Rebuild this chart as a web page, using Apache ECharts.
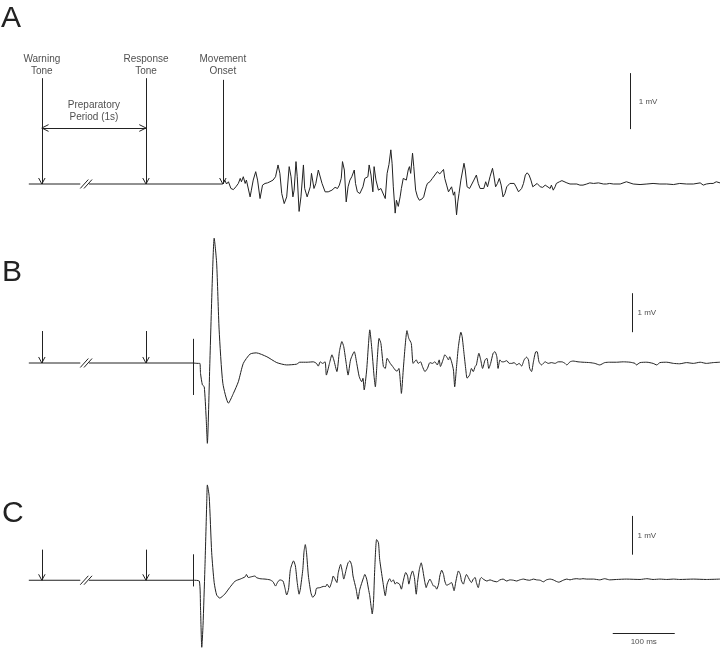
<!DOCTYPE html>
<html>
<head>
<meta charset="utf-8">
<title>EMG traces</title>
<script src="https://cdn.jsdelivr.net/npm/echarts/dist/echarts.min.js"></script>
<style>
  html, body { margin: 0; padding: 0; background: #fff; }
  #emg { width: 720px; height: 650px; }
</style>
</head>
<body>
<div id="emg"></div>
<script>
// ================* EMG TRACES (ms, mV) *

// time of events, ms (response tone = 0, axis broken between warning and response)
var toneTimes = [-168, 0];
var onsetTimes = [124, 76, 77];

// panel A
var traceA = [
    [124,0],[125,0.01],[127,0.07],[130,0.00],[133,0.04],[137,-0.08],[141,-0.10],[145,-0.05],[149,0.01],[152,0.10],
    [154,0.04],[157,0.13],[160,0.01],[162,0.07],[168,-0.23],[170,-0.11],[173,0.07],[177,0.22],[180,0.07],[184,-0.26],
    [188,-0.02],[192,0.01],[196,0.02],[200,0.04],[205,0.07],[209,0.13],[213,0.34],[216,0.19],[219,-0.17],[223,-0.35],
    [227,-0.23],[231,0.31],[234,0.13],[237,-0.23],[239,-0.11],[242,0.40],[244,0.13],[247,-0.49],[250,-0.23],[254,0.34],
    [256,-0.08],[260,-0.23],[265,-0.05],[267,0.19],[271,-0.08],[274,0.01],[278,0.25],[281,0.22],[284,0.01],[289,-0.14],
    [294,-0.14],[300,-0.11],[305,-0.06],[309,-0.08],[312,-0.02],[315,0.10],[317,0.40],[320,0.25],[323,-0.32],[326,-0.05],
    [329,0.07],[332,0.13],[336,0.25],[338,0.01],[341,-0.14],[345,-0.17],[350,-0.05],[353,0.10],[358,0.13],[360,0.34],
    [363,0.16],[366,-0.14],[368,0.31],[371,0.07],[375,-0.11],[379,-0.08],[382,-0.05],[386,-0.26],[389,0.19],[392,0.35],
    [395,0.61],[397,0.37],[399,-0.05],[402,-0.52],[404,-0.29],[407,-0.40],[410,-0.23],[412,-0.08],[415,0.10],[418,0.13],
    [420,0.07],[423,0.25],[425,0.31],[427,0.19],[430,0.55],[432,0.31],[435,-0.11],[438,-0.23],[441,-0.29],[445,-0.27],
    [448,-0.23],[452,-0.05],[454,0.01],[458,0.04],[462,0.10],[466,0.16],[470,0.22],[474,0.18],[477,0.20],[480,0.26],
    [482,0.10],[485,-0.02],[488,-0.14],[490,-0.11],[493,-0.05],[496,-0.20],[498,-0.14],[501,-0.55],[503,-0.32],[505,-0.17],
    [508,0.07],[511,0.25],[513,0.37],[515,0.25],[518,-0.05],[522,-0.08],[525,-0.05],[529,0.07],[533,0.16],[536,0.01],
    [539,-0.08],[541,-0.06],[545,-0.08],[548,0.04],[551,-0.05],[555,0.13],[559,0.28],[561,0.16],[564,-0.05],[567,0.01],
    [570,0.10],[573,-0.02],[576,-0.23],[579,-0.17],[582,-0.05],[584,-0.05],[587,0.01],[590,0.04],[594,0.01],[597,-0.05],
    [601,-0.14],[603,-0.16],[606,-0.08],[609,0.01],[612,0.16],[615,0.20],[618,0.16],[621,0.07],[624,-0.05],[627,-0.04],
    [631,0.01],[636,-0.05],[640,-0.06],[644,-0.02],[647,-0.05],[652,-0.08],[654,-0.02],[657,-0.11],[660,-0.05],[662,0.01],
    [667,0.04],[671,0.06],[673,0.04],[679,0.02],[684,0],[689,0],[695,0],[700,-0.02],[705,-0.02],[711,0],
    [716,0.02],[722,0.01],[730,0.02],[738,0],[743,0],[748,0.01],[754,0],[765,0],[775,0.04],[778,0.01],
    [786,0],[797,-0.01],[808,0],[818,0.01],[829,0],[840,0],[851,-0.01],[861,0.01],[872,0],[883,0],
    [894,0.02],[899,-0.02],[904,0],[910,0.01],[915,0.01],[920,0.04],[926,0.02]
];

// panel B
var traceB = [
    [76,0],[84,-0.01],[87,-0.01],[88,-0.27],[91,-0.56],[94,-0.61],[97,-1.38],[99,-2.06],[103,-0.01],[107,2.13],
    [110,3.20],[114,2.56],[118,0.85],[124,-0.52],[133,-1.03],[141,-0.78],[149,-0.48],[157,-0.01],[168,0.23],[178,0.26],
    [195,0.16],[211,0.01],[227,-0.05],[243,-0.03],[248,0.02],[260,0.02],[270,0.03],[275,-0.01],[278,-0.08],[281,0.03],
    [285,-0.01],[289,0.03],[291,-0.31],[296,-0.01],[300,0.21],[303,0.08],[308,-0.22],[312,0.29],[316,0.55],[319,0.42],
    [323,-0.01],[326,-0.31],[330,0.08],[336,0.29],[340,-0.01],[344,-0.35],[348,-0.48],[350,-0.39],[352,-0.69],[356,-0.18],
    [359,0.50],[361,0.85],[364,0.42],[368,-0.35],[370,-0.61],[373,0.08],[376,0.63],[379,0.50],[383,-0.09],[386,-0.14],
    [389,0.12],[394,-0.01],[398,-0.09],[402,-0.18],[405,-0.21],[408,-0.14],[411,-0.61],[412,-0.78],[415,-0.18],[418,0.42],
    [421,0.83],[424,0.63],[428,0.50],[431,-0.01],[436,0.08],[439,-0.01],[443,0.03],[446,-0.09],[450,-0.22],[454,-0.14],
    [458,0.01],[462,-0.01],[466,0.03],[470,-0.05],[473,0.08],[475,-0.09],[480,0.12],[482,0.21],[485,0.16],[488,0.08],
    [490,0.16],[493,0.03],[496,-0.18],[498,-0.61],[501,-0.09],[504,0.42],[508,0.79],[510,0.68],[513,0.25],[516,-0.18],
    [518,-0.39],[522,-0.31],[525,-0.14],[528,-0.22],[531,-0.09],[533,-0.05],[537,0.25],[540,0.08],[543,-0.14],[547,0.08],
    [550,0.12],[553,-0.14],[556,-0.01],[560,0.25],[563,0.29],[566,0.16],[568,-0.14],[571,0.08],[574,0.03],[577,0.03],
    [582,0.06],[586,-0.01],[590,-0.01],[594,0.01],[598,-0.05],[602,-0.01],[606,-0.08],[610,0.08],[614,0.15],[617,0.08],
    [619,-0.14],[622,-0.22],[625,0.03],[629,0.29],[631,0.29],[634,0.03],[638,-0.05],[644,0.03],[649,-0.01],[654,0.01],
    [660,-0.01],[665,0.03],[671,0.03],[676,-0.01],[679,-0.05],[684,0.03],[689,0.05],[697,0.03],[705,0.02],[716,0.01],
    [724,-0.01],[732,-0.05],[740,0.01],[748,0.02],[759,0.02],[770,0.03],[781,0.02],[789,-0.01],[791,-0.05],[797,0.01],
    [808,0.02],[818,-0.01],[824,-0.05],[829,0.01],[840,0.02],[851,-0.01],[861,-0.02],[872,0.01],[883,-0.01],[894,0.02],
    [904,-0.01],[915,0.01],[926,0.02]
];

// panel C
var traceC = [
    [77,0],[86,-0.02],[88,-0.74],[90,-1.73],[92,-1.17],[95,0.28],[98,1.99],[99,2.46],[102,2.16],[106,0.71],
    [110,-0.06],[114,-0.38],[119,-0.46],[127,-0.36],[135,-0.19],[144,-0.02],[152,0.03],[160,0.09],[162,0.15],[165,0.07],
    [170,0.09],[176,0.11],[178,0.07],[184,0.04],[192,0.03],[200,0.01],[205,-0.04],[209,-0.15],[212,-0.06],[216,0.01],
    [221,-0.02],[224,-0.19],[227,-0.38],[230,-0.23],[233,0.28],[238,0.50],[241,0.37],[244,-0.06],[247,-0.36],[249,-0.23],
    [253,0.28],[255,0.75],[257,0.92],[259,0.71],[262,0.11],[266,-0.32],[269,-0.44],[273,-0.36],[275,-0.21],[281,-0.19],
    [286,-0.16],[290,-0.16],[292,-0.10],[296,-0.19],[300,-0.02],[302,0.11],[305,0.03],[308,-0.06],[310,0.18],[314,0.41],
    [317,0.20],[319,0.03],[323,0.28],[326,0.45],[329,0.50],[332,0.37],[334,0.11],[339,-0.23],[342,-0.49],[345,-0.23],
    [351,0.07],[353,0.15],[356,0.03],[359,-0.23],[361,-0.40],[363,-0.66],[365,-0.87],[367,-0.57],[369,0.28],[372,1.05],
    [375,0.97],[377,0.54],[382,-0.02],[386,-0.40],[389,-0.10],[393,0.04],[396,-0.04],[399,0.01],[402,-0.10],[404,-0.06],
    [409,-0.10],[412,-0.23],[415,-0.02],[419,0.20],[422,0.11],[424,-0.10],[427,0.11],[430,0.24],[433,0.07],[436,-0.36],
    [438,-0.06],[441,0.28],[444,0.45],[446,0.32],[449,0.03],[452,-0.19],[454,-0.10],[458,0.03],[461,-0.06],[464,-0.15],
    [466,-0.15],[469,-0.23],[472,-0.10],[474,0.11],[477,0.26],[480,0.15],[482,-0.02],[485,-0.13],[489,-0.10],[493,-0.06],
    [497,-0.27],[500,-0.02],[504,0.24],[507,0.15],[509,-0.02],[512,-0.10],[515,0.07],[517,0.15],[520,0.07],[523,-0.02],
    [525,-0.06],[528,0.03],[531,0.07],[533,-0.06],[536,-0.19],[539,0.03],[541,0.07],[544,0.03],[550,-0.02],[555,0.01],
    [560,-0.02],[566,-0.04],[571,0.01],[576,0.03],[582,-0.02],[587,0.01],[593,0],[598,-0.02],[603,0.01],[609,0.03],
    [614,0.01],[619,0],[625,0.03],[630,0.01],[636,0],[641,-0.04],[646,0.01],[652,0.03],[657,0.01],[662,-0.03],
    [666,-0.05],[673,0],[679,0.03],[684,0.01],[689,0.03],[695,0.04],[700,0.03],[705,0.04],[711,0.03],[722,0.03],
    [732,0.01],[740,0.04],[748,0.01],[759,0.02],[775,0.03],[797,0.02],[808,0.04],[818,0.02],[829,0.03],[840,0.02],
    [851,0.03],[861,0.02],[883,0.03],[904,0.02],[926,0.03]
];

// pre-onset baseline (before / after the axis break), ms
var baseStart = -189;
var breakFrom = -106;
var breakTo = -92;

// scale bars: [time, from mV, to mV]
var mvBars = [[781, 0.98, 1.98], [784, 0.79, 1.79], [784, 0.66, 1.66]];
var msBar = [753, 853, -1.36];

var font = 'Liberation Sans, Arial, Helvetica, sans-serif';
var ink = '#222';

function seg(a, b) {
    return [{ coord: a }, { coord: b }];
}

// down arrow ending on the baseline, open chevron head
function downArrow(t, top, armT, armV) {
    return [seg([t, top], [t, 0]), seg([t - armT, armV], [t, 0]), seg([t + armT, armV], [t, 0])];
}

function breakMarks(h) {
    return [seg([-106, -h], [-93, h]), seg([-100, -h], [-87, h])];
}

function textSeries(idx, items, size) {
    return {
        type: 'scatter',
        xAxisIndex: idx,
        yAxisIndex: idx,
        symbolSize: 1,
        silent: true,
        itemStyle: { color: 'rgba(0,0,0,0)' },
        label: {
            show: true,
            position: 'inside',
            formatter: '{b}',
            color: '#222',
            fontSize: size,
            lineHeight: size + 2,
            fontFamily: font
        },
        data: items
    };
}

function tracePanel(idx, onset, trace, annot, smooth) {
    return [{
        type: 'line',
        xAxisIndex: idx,
        yAxisIndex: idx,
        data: [[baseStart, 0], [breakFrom, 0]],
        showSymbol: false,
        lineStyle: { color: ink, width: 1 },
        markLine: {
            silent: true,
            symbol: ['none', 'none'],
            label: { show: false },
            lineStyle: { color: ink, width: 1, type: 'solid' },
            data: annot
        }
    }, {
        type: 'line',
        xAxisIndex: idx,
        yAxisIndex: idx,
        data: [[breakTo, 0], [onset, 0]],
        showSymbol: false,
        lineStyle: { color: ink, width: 1 }
    }, {
        type: 'line',
        xAxisIndex: idx,
        yAxisIndex: idx,
        data: trace,
        showSymbol: false,
        smooth: smooth,
        clip: false,
        lineStyle: { color: ink, width: 1 }
    }];
}

var emg = echarts.init(document.getElementById('emg'));

// panel A annotations
var annotA = []
    .concat(downArrow(toneTimes[0], 1.89, 5.2, 0.107))
    .concat(downArrow(toneTimes[1], 1.89, 5.2, 0.107))
    .concat(downArrow(onsetTimes[0], 1.86, 5.2, 0.107))
    .concat([
        seg([toneTimes[0], 1.0], [toneTimes[1], 1.0]),
        seg([toneTimes[0], 1.0], [toneTimes[0] + 10.8, 1.06]),
        seg([toneTimes[0], 1.0], [toneTimes[0] + 10.8, 0.94]),
        seg([toneTimes[1], 1.0], [toneTimes[1] - 10.8, 1.06]),
        seg([toneTimes[1], 1.0], [toneTimes[1] - 10.8, 0.94])
    ])
    .concat(breakMarks(0.08))
    .concat([seg([mvBars[0][0], mvBars[0][1]], [mvBars[0][0], mvBars[0][2]])]);

var annotB = []
    .concat(downArrow(toneTimes[0], 0.82, 5.2, 0.154))
    .concat(downArrow(toneTimes[1], 0.82, 5.2, 0.154))
    .concat([seg([onsetTimes[1], 0.62], [onsetTimes[1], -0.82])])
    .concat(breakMarks(0.115))
    .concat([seg([mvBars[1][0], mvBars[1][1]], [mvBars[1][0], mvBars[1][2]])]);

var annotC = []
    .concat(downArrow(toneTimes[0], 0.79, 5.2, 0.154))
    .concat(downArrow(toneTimes[1], 0.79, 5.2, 0.154))
    .concat([seg([onsetTimes[2], 0.67], [onsetTimes[2], -0.16])])
    .concat(breakMarks(0.115))
    .concat([seg([mvBars[2][0], mvBars[2][1]], [mvBars[2][0], mvBars[2][2]])])
    .concat([seg([msBar[0], msBar[2]], [msBar[1], msBar[2]])]);

var xRange = { min: -235.5, max: 926 };

var option = {
    animation: false,
    backgroundColor: '#fff',
    title: [
        { text: 'A', left: 1, top: 4, padding: 0, textStyle: { fontSize: 30, fontWeight: 'normal', color: '#222', fontFamily: font } },
        { text: 'B', left: 2, top: 258, padding: 0, textStyle: { fontSize: 30, fontWeight: 'normal', color: '#222', fontFamily: font } },
        { text: 'C', left: 2, top: 499, padding: 0, textStyle: { fontSize: 30, fontWeight: 'normal', color: '#222', fontFamily: font } }
    ],
    grid: [
        { left: 0, right: 0, top: 44, height: 196 },
        { left: 0, right: 0, top: 226.5, height: 234 },
        { left: 0, right: 0, top: 464, height: 187.2 }
    ],
    xAxis: [0, 1, 2].map(function (i) {
        return { gridIndex: i, type: 'value', min: xRange.min, max: xRange.max, show: false };
    }),
    yAxis: [
        { gridIndex: 0, type: 'value', min: -1, max: 2.5, show: false },
        { gridIndex: 1, type: 'value', min: -2.5, max: 3.5, show: false },
        { gridIndex: 2, type: 'value', min: -1.8, max: 3, show: false }
    ],
    series: []
        .concat(tracePanel(0, onsetTimes[0], traceA, annotA, false))
        .concat(tracePanel(1, onsetTimes[1], traceB, annotB, 0.2))
        .concat(tracePanel(2, onsetTimes[2], traceC, annotC, 0.2))
        .concat([
            textSeries(0, [
                { name: 'Warning\nTone', value: [toneTimes[0], 2.125] },
                { name: 'Response\nTone', value: [toneTimes[1], 2.125] },
                { name: 'Movement\nOnset', value: [onsetTimes[0], 2.125] },
                { name: 'Preparatory\nPeriod (1s)', value: [-84, 1.295] }
            ], 10),
            textSeries(0, [{ name: '1 mV', value: [810, 1.46] }], 8),
            textSeries(1, [{ name: '1 mV', value: [808, 1.29] }], 8),
            textSeries(2, [
                { name: '1 mV', value: [808, 1.14] },
                { name: '100 ms', value: [803, -1.58] }
            ], 8)
        ])
};

emg.setOption(option);
</script>
</body>
</html>
